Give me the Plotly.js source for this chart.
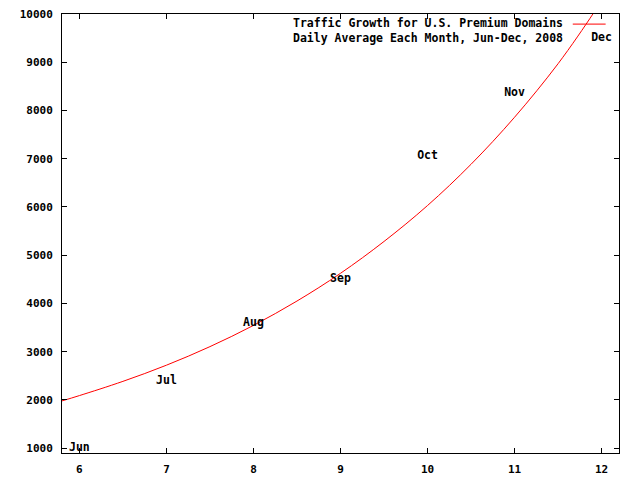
<!DOCTYPE html>
<html>
<head>
<meta charset="utf-8">
<script src="https://cdn.plot.ly/plotly-3.0.1.min.js"></script>
<style>html,body{margin:0;padding:0;background:#fff;}#chart{width:640px;height:480px;}</style>
</head>
<body>
<div id="chart"></div>
<script>
// Curve values (month number -> daily average)
var curveX = [5.8, 6, 6.5, 7, 7.5, 8, 8.5, 9, 9.5, 10, 10.5, 11, 11.5, 11.9, 12.0];
var curveY = [1980, 2090, 2385, 2720, 3105, 3545, 4050, 4625, 5285, 6030, 6885, 7860, 8970, 10000, 10290];

// Month labels and their positions
var monthNames = ['Jun', 'Jul', 'Aug', 'Sep', 'Oct', 'Nov', 'Dec'];
var monthX = [6, 7, 8, 9, 10, 11, 12];
var monthY = [1000, 2400, 3600, 4500, 7050, 8350, 9500];

var seriesLine1 = 'Traffic Growth for U.S. Premium Domains';
var seriesLine2 = 'Daily Average Each Month, Jun-Dec, 2008';

var monoFont = 'DejaVu Sans Mono';

var traces = [
  {
    x: curveX, y: curveY, type: 'scatter', mode: 'lines',
    line: {color: '#ff0000', width: 1, shape: 'spline'},
    name: seriesLine1, showlegend: false, hoverinfo: 'skip'
  },
  {
    x: monthX, y: monthY, type: 'scatter', mode: 'text',
    text: monthNames, textposition: 'middle center',
    textfont: {family: monoFont, size: 11.5, color: '#000', weight: 'bold'},
    showlegend: false, cliponaxis: false, hoverinfo: 'skip'
  }
];

var axisCommon = {
  showline: true, linecolor: '#000', linewidth: 1, mirror: 'ticks',
  ticks: 'inside', ticklen: 5, tickcolor: '#000', tickwidth: 1,
  showgrid: false, zeroline: false,
  tickfont: {family: monoFont, size: 11, color: '#000', weight: 'bold'}
};

var layout = {
  width: 640, height: 480,
  margin: {l: 62, r: 21, t: 14, b: 27},
  paper_bgcolor: '#fff', plot_bgcolor: '#fff',
  showlegend: false,
  xaxis: Object.assign({}, axisCommon, {range: [5.8, 12.2], dtick: 1, tick0: 6, ticklabelstandoff: 6}),
  yaxis: Object.assign({}, axisCommon, {range: [900, 10000], dtick: 1000, tick0: 1000, tickformat: 'd', ticklabelstandoff: 6}),
  annotations: [
    {text: seriesLine1 + '<br>' + seriesLine2, align: 'right',
     xref: 'paper', yref: 'paper', x: 0.903, y: 0.963, xanchor: 'right', yanchor: 'middle', showarrow: false,
     font: {family: monoFont, size: 11.5, color: '#000', weight: 'bold'}}
  ],
  shapes: [
    {type: 'line', xref: 'paper', yref: 'paper', x0: 0.917, x1: 0.976, y0: 0.977, y1: 0.977, line: {color: '#ff0000', width: 1}}
  ]
};

Plotly.newPlot('chart', traces, layout, {staticPlot: true, displayModeBar: false});
</script>
</body>
</html>
